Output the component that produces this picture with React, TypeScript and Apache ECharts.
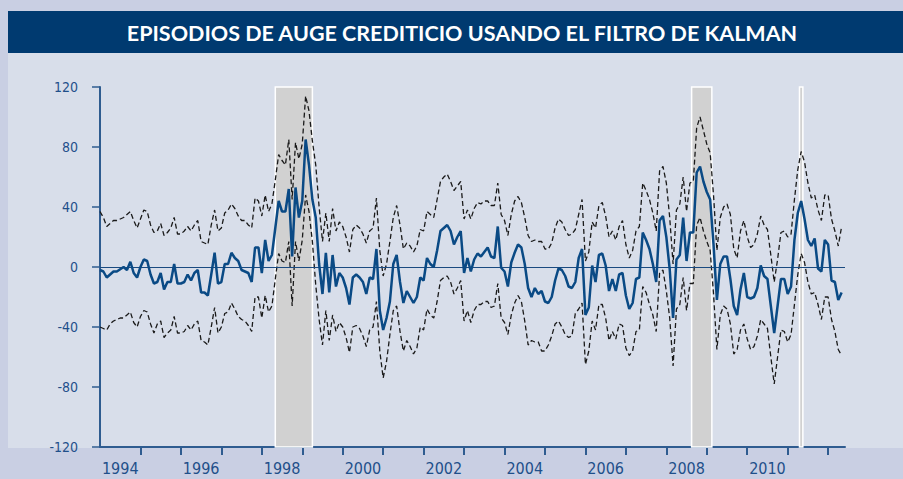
import React, { useEffect, useRef } from "react";
import * as echarts from "echarts";

// Monthly observations, January 1994 onwards (index 0 = 1994-01)
const centre: number[] = [
  -2, -3, -7, -5, -3, -3, -1.5, 0, -2, 3.5, -4, -7, 0, 5, 4, -5, -11, -10, -4, -15, -10, -10, 2, -11, -11, -10, -5, -9, -4, -2, -17, -17, -19, -5, 9.5, -11, -10, 2,
  2, 9.5, 6, 4, -2, -3, -4, -10, 13, 13, -4, 18, 4, 8, 26, 44, 37, 37, 52, 7, 53, 33, 44, 85, 68, 45, 33, 2, -18, 9.5, -17, 8, -13, -4, -7, -14, -25,
  -7, -5, -7, -10, -18, -7, -8, 12, -29, -42, -34, -23, 2, 8, -10, -24, -16, -20, -24, -20, -7, -9, 6, 2, 0, 11, 24, 26, 28, 24, 15, 20, 24, -4, 6, -3, 5,
  9, 7, 10, 13, 7, 6, 27, -0.5, -3, -13, 3, 9.5, 15, 13, 2, -14, -20, -14, -18, -16, -23, -24, -20, -9, -1, -2, -6, -13, -14, -10, 6, 12, -32, -27, 1, -10, 8,
  9, 1, -16, -8, -16, -5, -4, -19, -28, -24, -8, -7, 23, 18, 12, 2, -10, 31, 34, 20, -1.5, -34, 5, 8, 33, 4, 23, 23, 63, 67, 57, 50, 45, 15, -22, 2, 7,
  7, -8, -26, -32, -15, -4, -20, -21, -20, -14, 1, -6, -8, -26, -44, -26, -8, -8, -18, -13, 18, 36, 44, 32, 18, 14, 19, -1, -3, 18, 15, -9, -10, -22, -17,
];

const upper: number[] = [
  37, 33, 27, 29, 31, 31, 32, 33, 35, 37, 31, 26, 32, 38, 37, 28, 23, 24, 29, 21, 23, 26, 33, 22, 22, 24, 27, 24, 28, 31, 17, 16, 15, 28, 38, 24, 26, 36,
  38, 42, 39, 34, 31, 31, 28, 26, 46, 44, 34, 48, 37, 42, 58, 75, 71, 68, 85, 45, 83, 72, 82, 114, 104, 84, 68, 40, 17, 36, 17, 39, 24, 30, 27, 20, 10,
  25, 28, 26, 22, 16, 24, 26, 46, 11, -6, 2, 17, 33, 41, 28, 12, 16, 14, 10, 14, 25, 24, 37, 35, 33, 45, 57, 60, 62, 57, 51, 54, 57, 32, 38, 32, 39,
  43, 42, 44, 44, 41, 41, 56, 35, 31, 21, 35, 44, 47, 43, 33, 21, 17, 18, 17, 17, 12, 12, 16, 26, 32, 30, 25, 21, 22, 25, 35, 45, 4, 10, 30, 26, 41,
  43, 34, 20, 24, 18, 27, 31, 15, 6, 11, 24, 27, 56, 51, 45, 36, 24, 64, 67, 56, 33, 2, 38, 42, 60, 37, 56, 57, 93, 100, 91, 82, 76, 48, 11, 33, 40,
  42, 35, 12, 6, 24, 31, 20, 13, 15, 22, 34, 28, 25, 8, -10, 5, 23, 24, 20, 22, 45, 65, 77, 70, 56, 46, 48, 38, 31, 48, 48, 32, 24, 14, 27,
];

const lower: number[] = [
  -40, -41, -42, -38, -36, -35, -34, -34, -32, -30, -37, -40, -33, -29, -30, -38, -44, -38, -36, -47, -44, -42, -33, -44, -44, -43, -39, -42, -38, -36, -49, -50, -52, -40, -27, -44, -40, -31,
  -30, -24, -28, -33, -35, -36, -39, -43, -20, -20, -34, -19, -30, -26, -8, 9, 4, 3, 17, -26, 17, 4, 18, 48, 37, 17, -12, -35, -52, -29, -49, -32, -43, -37, -40, -47, -57,
  -40, -39, -41, -46, -53, -42, -40, -23, -56, -74, -63, -45, -29, -26, -43, -56, -49, -53, -58, -54, -40, -42, -28, -32, -34, -23, -9, -7, -6, -10, -18, -14, -9, -36, -29, -37, -29,
  -25, -25, -23, -23, -27, -26, -11, -34, -37, -45, -32, -24, -19, -23, -36, -52, -49, -50, -50, -56, -56, -52, -46, -38, -36, -40, -45, -47, -46, -31, -28, -24, -65, -56, -36, -42, -25,
  -25, -34, -49, -43, -48, -38, -39, -54, -59, -56, -43, -42, -13, -17, -25, -32, -43, -4, -2, -16, -34, -66, -28, -25, -7, -29, -11, -11, 28, 33, 24, 17, 11, -18, -55, -32, -26,
  -28, -38, -58, -55, -42, -38, -48, -55, -53, -46, -35, -38, -41, -60, -78, -60, -42, -43, -50, -45, -25, -5, 9, 3, -10, -18, -17, -25, -35, -20, -20, -35, -43, -55, -59,
];

// Credit-boom episodes (month indices since 1994-01)
const episodeStart: number[] = [52, 175.5, 207.5];
const episodeEnd: number[] = [63, 181.5, 208.5];

const firstYear = 1994;
const yearLabels: string[] = ["1994", "1996", "1998", "2000", "2002", "2004", "2006", "2008", "2010"];
const yTicks: number[] = [-120, -80, -40, 0, 40, 80, 120];

const TITLE = "EPISODIOS DE AUGE CREDITICIO USANDO EL FILTRO DE KALMAN";

export default function App() {
  const ref = useRef<HTMLDivElement>(null);

  useEffect(() => {
    if (!ref.current) return;
    const chart = echarts.init(ref.current, undefined, { renderer: "svg" });
    const toPairs = (arr: number[]) => arr.map((v, i) => [i, v]);
    const nMax = 221;
    const yearTickValues: number[] = [];
    for (let m = 12; m < nMax; m += 12) yearTickValues.push(m);
    const labelValues = yearLabels.map((y) => (parseInt(y, 10) - firstYear) * 12 + 6);
    const narrow = "'Liberation Sans Narrow', 'DejaVu Sans Condensed', 'Roboto Condensed', Roboto, sans-serif";
    const axisBlue = "#2f5c90";

    chart.setOption({
      animation: false,
      backgroundColor: "#c9cfe3",
      graphic: [
        { type: "rect", silent: true, z: -10, shape: { x: 8, y: 11, width: 895, height: 437 }, style: { fill: "#d8deea" } },
        { type: "rect", silent: true, z: -9, shape: { x: 8, y: 11, width: 895, height: 42 }, style: { fill: "#003a70" } },
        {
          type: "text",
          x: 462,
          y: 33,
          z: 10,
          style: {
            text: TITLE,
            fill: "#ffffff",
            fontSize: 21.5,
            fontWeight: "bold",
            fontFamily: "Lato, 'Open Sans', sans-serif",
            align: "center",
            verticalAlign: "middle",
          },
        },
      ],
      grid: { left: 100, right: 58, top: 87, bottom: 32, containLabel: false },
      xAxis: {
        type: "value",
        min: 0,
        max: nMax,
        splitLine: { show: false },
        axisLine: { show: true, onZero: false, lineStyle: { color: axisBlue, width: 2 } },
        axisTick: { show: true, inside: false, length: 8, customValues: yearTickValues, lineStyle: { color: axisBlue, width: 2 } },
        axisLabel: {
          show: true,
          customValues: labelValues,
          margin: 13,
          color: "#1f4f8a",
          fontSize: 16,
          fontFamily: narrow,
          formatter: (v: number) => String(firstYear + Math.round((v - 6) / 12)),
        },
      },
      yAxis: {
        type: "value",
        min: -120,
        max: 120,
        interval: 40,
        splitLine: { show: false },
        axisLine: { show: true, lineStyle: { color: axisBlue, width: 2 } },
        axisTick: { show: true, inside: false, length: 8, lineStyle: { color: axisBlue, width: 1.5 } },
        axisLabel: {
          margin: 22,
          color: "#1f4f8a",
          fontSize: 14,
          fontFamily: narrow,
          customValues: yTicks,
        },
      },
      series: [
        {
          type: "line",
          name: "episodes",
          data: [],
          z: 1,
          silent: true,
          markArea: {
            silent: true,
            itemStyle: { color: "#d1d1d1", borderColor: "#ffffff", borderWidth: 1.5 },
            data: episodeStart.map((s, k) => [
              { xAxis: s, yAxis: -120 },
              { xAxis: episodeEnd[k], yAxis: 120 },
            ]),
          },
        },
        {
          type: "line",
          name: "upper",
          data: toPairs(upper),
          z: 3,
          symbol: "none",
          silent: true,
          lineStyle: { color: "#1a1a1a", width: 1.3, type: [5, 3] },
        },
        {
          type: "line",
          name: "lower",
          data: toPairs(lower),
          z: 3,
          symbol: "none",
          silent: true,
          lineStyle: { color: "#1a1a1a", width: 1.3, type: [5, 3] },
        },
        {
          type: "line",
          name: "centre",
          data: toPairs(centre),
          z: 5,
          symbol: "none",
          silent: true,
          lineStyle: { color: "#0a4a85", width: 2.5 },
          markLine: {
            silent: true,
            symbol: "none",
            label: { show: false },
            lineStyle: { color: "#1a4a80", width: 1.2, type: "solid" },
            data: [{ yAxis: 0 }],
          },
        },
      ],
    });
    return () => chart.dispose();
  }, []);

  return <div ref={ref} style={{ position: "fixed", left: 0, top: 0, width: 903, height: 479 }} />;
}
